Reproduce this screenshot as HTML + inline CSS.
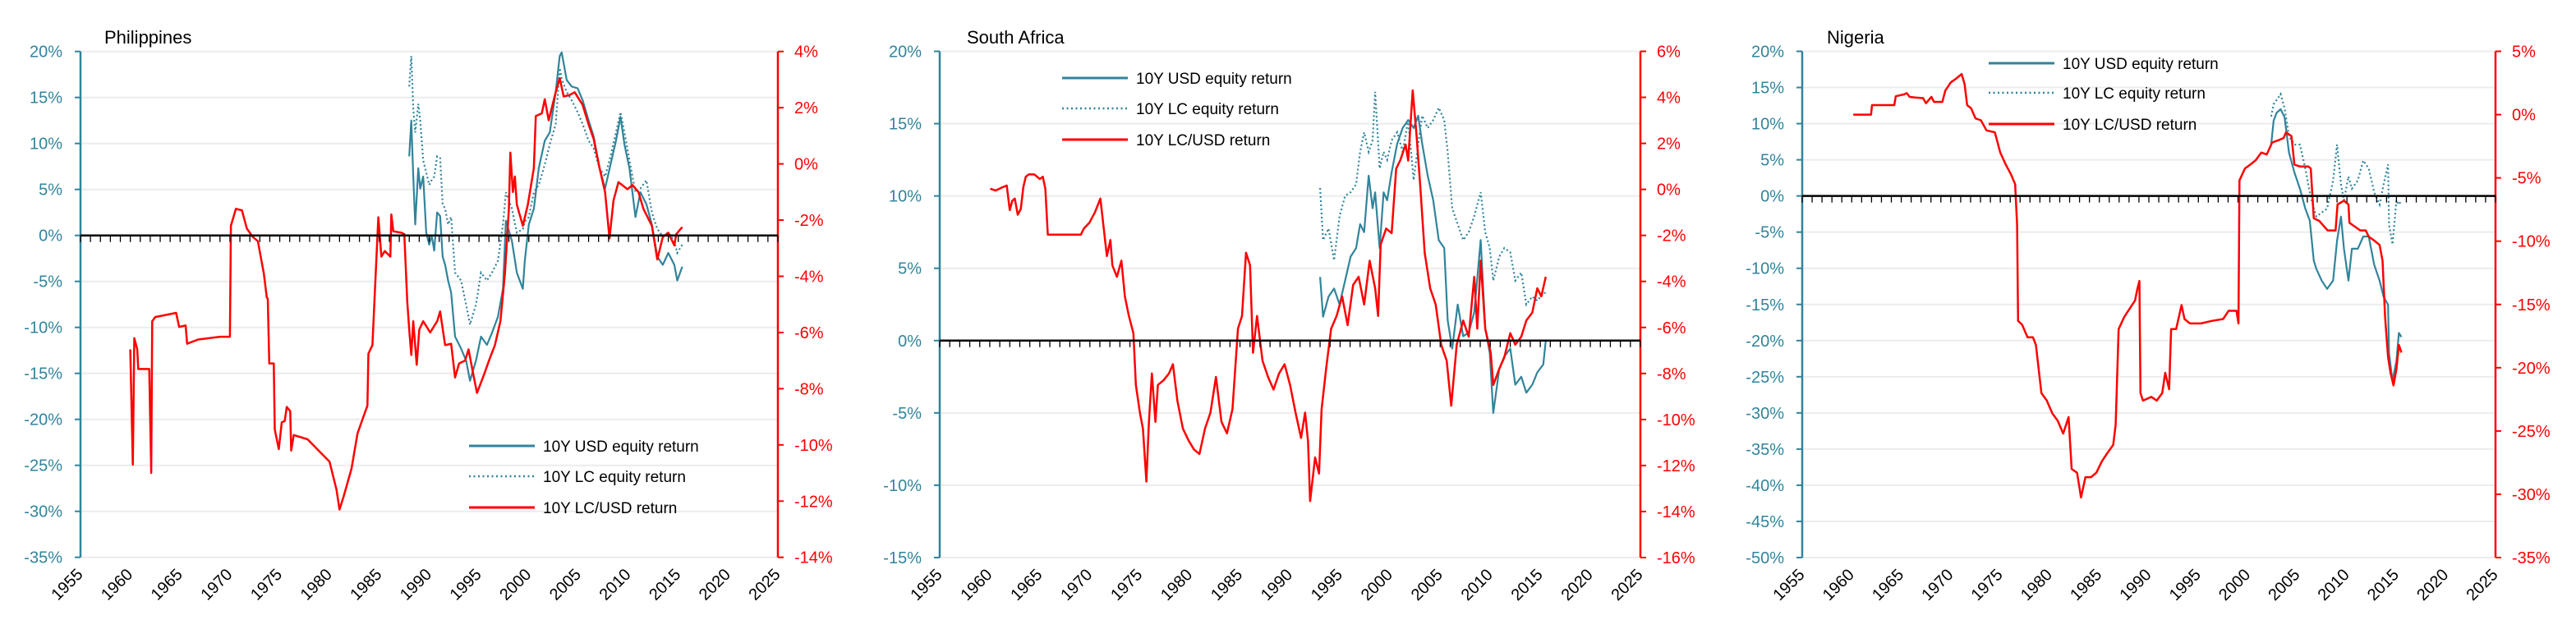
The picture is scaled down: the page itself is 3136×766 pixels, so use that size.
<!DOCTYPE html>
<html><head><meta charset="utf-8">
<style>
html,body{margin:0;padding:0;background:#fff;}
svg{display:block;font-family:"Liberation Sans",sans-serif;}
</style></head>
<body>
<svg id="chart" width="3136" height="766" viewBox="0 0 3136 766" xmlns="http://www.w3.org/2000/svg"></svg>
<script>
// ---------- DATA (year, value %) ----------
const phYears_fx = [1960.0,1960.25,1960.4,1960.7,1960.8,1961.9,1962.1,1962.2,1962.5,1964.6,1964.9,1965.55,1965.7,1966.8,1969.0,1970.0,1970.1,1970.6,1971.2,1971.7,1972.3,1972.8,1973.4,1973.7,1973.8,1973.95,1974.4,1974.5,1974.9,1975.2,1975.5,1975.7,1976.05,1976.15,1976.4,1977.8,1978.9,1980.0,1980.7,1981.0,1981.4,1982.2,1982.8,1983.3,1983.8,1983.9,1984.3,1984.6,1984.9,1985.2,1985.55,1986.1,1986.2,1986.4,1987.2,1987.5,1987.8,1988.0,1988.2,1988.4,1988.75,1989.0,1989.4,1990.1,1990.8,1991.1,1991.6,1992.2,1992.6,1993.0,1993.6,1993.95,1994.4,1994.8,1995.5,1996.0,1996.6,1997.15,1997.6,1998.0,1998.15,1998.4,1998.6,1998.8,1999.4,1999.9,2000.5,2000.7,2001.3,2001.6,2002.0,2002.7,2003.1,2003.5,2004.1,2004.6,2005.4,2006.0,2006.5,2007.1,2007.65,2008.1,2008.5,2009.0,2009.9,2010.4,2011.0,2011.5,2012.35,2012.9,2013.45,2014.0,2014.6,2014.8,2015.4];
const phValues_fx = [-6.6,-10.7,-6.2,-6.6,-7.3,-7.3,-11.0,-5.6,-5.45,-5.3,-5.8,-5.75,-6.4,-6.25,-6.15,-6.15,-2.2,-1.6,-1.65,-2.3,-2.6,-2.75,-3.9,-4.75,-4.8,-7.1,-7.1,-9.45,-10.15,-9.2,-9.15,-8.65,-8.8,-10.2,-9.65,-9.8,-10.2,-10.6,-11.6,-12.3,-11.85,-10.85,-9.6,-9.1,-8.6,-6.75,-6.45,-4.15,-1.9,-3.3,-3.1,-3.3,-1.8,-2.4,-2.45,-2.5,-4.9,-5.9,-6.8,-5.6,-7.15,-5.9,-5.6,-6.0,-5.6,-5.25,-6.45,-6.4,-7.6,-7.1,-7.0,-6.6,-7.45,-8.15,-7.5,-7.0,-6.45,-5.6,-3.9,-1.6,0.4,-1.0,-0.45,-1.45,-2.2,-1.45,-0.15,1.7,1.8,2.3,1.55,2.55,3.05,2.4,2.45,2.55,2.1,1.4,0.9,-0.15,-1.0,-2.65,-1.3,-0.65,-0.9,-0.75,-1.0,-1.6,-2.2,-3.4,-2.6,-2.45,-2.9,-2.5,-2.25];
const phYears_eq = [1988.0,1988.2,1988.4,1988.6,1988.9,1989.1,1989.4,1989.7,1990.0,1990.25,1990.5,1990.8,1991.1,1991.35,1991.6,1991.9,1992.2,1992.6,1993.2,1993.7,1994.1,1994.7,1995.2,1995.8,1996.3,1996.9,1997.4,1997.7,1998.3,1998.8,1999.4,1999.6,2000.0,2000.5,2001.0,2001.6,2002.1,2002.7,2003.1,2003.3,2003.8,2004.3,2004.9,2005.4,2006.0,2006.5,2007.1,2007.65,2008.2,2008.75,2009.2,2009.6,2010.1,2010.7,2011.2,2011.8,2012.35,2012.9,2013.45,2014.0,2014.6,2014.9,2015.4];
const phValues_usd = [8.6,12.5,6.4,1.2,7.3,5.1,6.4,0.3,-1.0,0.0,-1.65,2.5,2.1,-2.3,-3.2,-4.9,-6.2,-11.0,-12.3,-13.6,-15.8,-13.6,-11.0,-11.9,-10.6,-8.85,-5.8,1.6,-0.6,-4.05,-5.8,-2.75,1.2,2.9,7.3,10.3,11.2,15.6,19.5,19.9,16.9,16.2,16.0,14.7,12.5,10.8,7.3,5.1,7.7,10.3,12.9,9.9,7.3,2.0,4.7,3.4,1.2,-2.3,-3.2,-1.9,-3.2,-4.9,-3.4];
const phValues_lc = [16.2,19.5,13.8,11.2,14.3,12.5,8.15,6.85,5.5,6.0,6.4,8.6,8.4,3.4,2.9,1.2,2.0,-4.05,-4.9,-7.5,-9.7,-7.5,-4.05,-4.9,-4.05,-2.75,1.2,4.7,2.9,0.3,0.7,1.5,2.0,4.7,5.5,7.7,9.9,12.1,18.2,17.0,15.6,14.7,13.4,12.1,10.3,9.5,7.3,6.4,8.6,11.2,13.4,11.2,8.15,4.7,5.1,6.0,2.5,0.7,-0.1,0.3,-0.6,-1.9,-1.0];

const zaYears_fx = [1960.05,1960.6,1961.15,1961.7,1962.0,1962.25,1962.5,1962.8,1963.1,1963.35,1963.6,1963.9,1964.45,1965.0,1965.3,1965.55,1965.8,1966.65,1967.75,1969.1,1969.4,1969.95,1970.5,1971.05,1971.3,1971.7,1972.05,1972.25,1972.7,1973.15,1973.5,1973.9,1974.35,1974.6,1975.0,1975.3,1975.65,1975.9,1976.2,1976.55,1976.8,1977.35,1977.9,1978.3,1978.75,1979.3,1979.85,1980.4,1980.95,1981.5,1982.05,1982.6,1983.15,1983.7,1984.25,1984.8,1985.2,1985.6,1986.0,1986.3,1986.7,1987.25,1987.8,1988.35,1988.9,1989.45,1990.0,1990.55,1991.1,1991.5,1991.8,1992.0,1992.5,1992.9,1993.15,1993.6,1994.1,1994.65,1995.2,1995.75,1996.3,1996.85,1997.4,1997.95,1998.5,1998.8,1999.05,1999.6,2000.15,2000.6,2001.0,2001.55,2001.8,2002.25,2002.65,2003.0,2003.45,2004.0,2004.55,2005.1,2005.65,2006.1,2006.65,2007.3,2007.85,2008.4,2008.7,2009.05,2009.5,2010.05,2010.3,2010.9,2011.4,2012.0,2012.5,2013.1,2013.6,2014.2,2014.7,2015.1,2015.55];
const zaValues_fx = [0.03,-0.05,0.07,0.17,-0.9,-0.5,-0.4,-1.1,-0.85,0.1,0.55,0.65,0.65,0.45,0.55,0.03,-1.97,-1.97,-1.97,-1.97,-1.7,-1.45,-1.0,-0.4,-1.35,-2.9,-2.2,-3.3,-3.8,-3.1,-4.65,-5.5,-6.25,-8.5,-9.7,-10.4,-12.7,-10.1,-8.0,-10.1,-8.5,-8.3,-8.0,-7.6,-9.2,-10.4,-10.9,-11.3,-11.5,-10.4,-9.7,-8.15,-10.1,-10.6,-9.55,-6.05,-5.5,-2.75,-3.3,-7.1,-5.5,-7.45,-8.15,-8.7,-8.0,-7.6,-8.5,-9.7,-10.8,-9.7,-10.95,-13.55,-11.65,-12.35,-9.55,-7.8,-6.05,-5.5,-4.65,-5.9,-4.15,-3.8,-5.0,-3.1,-4.3,-5.5,-2.4,-1.7,-1.9,0.9,1.25,1.95,1.25,4.3,2.3,0.2,-2.75,-4.3,-5.0,-6.75,-7.45,-9.4,-6.75,-5.7,-6.4,-3.8,-6.05,-3.1,-6.05,-7.1,-8.5,-7.8,-7.3,-6.25,-6.75,-6.4,-5.7,-5.35,-4.3,-4.65,-3.8];
const zaYears_eq = [1993.0,1993.3,1993.85,1994.4,1994.95,1995.5,1996.05,1996.6,1997.0,1997.4,1997.85,1998.25,1998.5,1998.95,1999.35,1999.7,2000.15,2000.7,2001.25,2001.8,2002.35,2002.8,2003.2,2003.75,2004.3,2004.85,2005.4,2005.75,2006.2,2006.75,2007.3,2007.85,2008.4,2009.05,2009.5,2009.95,2010.3,2010.9,2011.4,2012.0,2012.5,2013.1,2013.6,2014.2,2014.7,2015.3,2015.55];
const zaValues_usd = [4.4,1.65,3.05,3.6,2.5,4.15,5.8,6.4,8.05,7.5,11.4,9.15,10.25,6.4,10.25,9.7,11.65,13.6,14.7,15.25,14.7,15.55,13.6,11.4,9.7,6.95,6.4,1.4,-0.55,2.5,0.3,0.55,1.95,6.95,0.85,-0.85,-5.0,-1.95,-1.1,-0.55,-3.05,-2.5,-3.6,-3.05,-2.2,-1.65,0.0];
const zaValues_lc = [10.55,6.95,7.75,5.55,8.6,10.0,10.25,10.8,13.05,14.4,13.05,13.85,17.2,11.9,13.05,12.5,13.85,14.4,13.05,15.25,11.1,13.6,15.55,14.7,15.25,16.1,15.25,13.05,9.15,8.05,6.95,7.5,8.6,10.25,7.5,6.4,4.15,5.8,6.4,6.1,4.15,4.7,2.5,3.05,2.75,3.3,3.3];

const ngYears_fx = [1960.15,1961.95,1962.05,1964.3,1964.45,1965.3,1965.55,1965.85,1966.4,1967.2,1967.5,1968.05,1968.3,1969.15,1969.45,1970.0,1970.55,1971.1,1971.4,1971.65,1972.05,1972.5,1973.05,1973.6,1974.45,1975.0,1975.55,1976.1,1976.5,1976.7,1976.8,1977.2,1977.75,1978.3,1978.6,1979.15,1979.7,1980.25,1980.8,1981.35,1981.9,1982.2,1982.75,1983.15,1983.6,1984.15,1984.7,1985.25,1985.8,1986.4,1986.65,1986.95,1987.5,1988.05,1988.6,1988.85,1989.05,1989.15,1989.4,1990.25,1990.8,1991.35,1991.65,1992.05,1992.25,1992.75,1993.3,1993.6,1994.15,1995.25,1996.35,1997.5,1998.05,1998.85,1999.05,1999.15,1999.7,2000.25,2000.8,2001.35,2001.9,2002.45,2003.0,2003.6,2003.85,2004.4,2004.7,2005.25,2006.1,2006.35,2006.65,2007.2,2008.05,2008.85,2009.05,2009.7,2010.15,2010.25,2010.8,2011.35,2011.9,2012.2,2012.75,2013.3,2013.6,2013.85,2014.15,2014.4,2014.7,2015.0,2015.25,2015.5];
const ngValues_fx = [0.0,0.0,0.75,0.75,1.45,1.6,1.7,1.4,1.35,1.3,0.9,1.4,1.0,1.0,1.9,2.55,2.85,3.2,2.4,0.75,0.5,-0.3,-0.45,-1.25,-1.4,-3.0,-3.95,-4.75,-5.5,-8.7,-16.3,-16.6,-17.6,-17.6,-18.2,-22.0,-22.6,-23.6,-24.2,-25.2,-23.9,-28.0,-28.3,-30.25,-28.65,-28.65,-28.3,-27.4,-26.75,-26.1,-24.5,-16.95,-16.0,-15.35,-14.7,-13.75,-13.15,-22.0,-22.6,-22.3,-22.6,-22.0,-20.4,-21.7,-16.95,-16.95,-15.05,-16.15,-16.5,-16.5,-16.3,-16.15,-15.5,-15.5,-16.5,-5.2,-4.25,-3.95,-3.6,-3.0,-3.15,-2.2,-2.05,-1.85,-1.4,-1.7,-3.95,-4.1,-4.1,-4.25,-8.2,-8.4,-9.15,-9.15,-7.1,-6.8,-7.1,-8.55,-8.85,-9.15,-9.15,-9.65,-9.95,-10.3,-11.55,-16.0,-19.15,-20.4,-21.4,-20.1,-18.2,-18.8];
const ngYears_eq = [2002.35,2002.6,2002.9,2003.3,2003.7,2004.15,2004.7,2005.25,2005.8,2006.25,2006.65,2006.9,2007.45,2008.0,2008.6,2009.0,2009.4,2009.7,2010.15,2010.5,2011.1,2011.65,2012.2,2012.75,2013.3,2013.7,2014.15,2014.25,2014.6,2015.0,2015.25,2015.5];
const ngValues_usd = [7.1,10.4,11.5,12.0,10.9,6.0,3.25,1.0,-1.75,-3.4,-8.95,-10.05,-11.7,-12.85,-11.7,-6.2,-2.85,-7.3,-11.7,-7.3,-7.3,-5.6,-5.6,-9.5,-11.7,-13.95,-15.05,-21.7,-25.6,-22.8,-18.95,-19.5];
const ngValues_lc = [11.0,12.7,13.25,14.1,12.15,8.25,7.1,7.1,3.8,0.5,-1.75,-2.85,-2.3,-1.75,2.15,7.1,1.6,-0.6,2.7,1.0,2.15,4.9,3.8,0.5,-1.2,1.6,4.35,-3.95,-6.7,-0.6,-1.2,-0.6];

const xTickYears = [1955,1960,1965,1970,1975,1980,1985,1990,1995,2000,2005,2010,2015,2020,2025];
const legendLabels = ["10Y USD equity return","10Y LC equity return","10Y LC/USD return"];

// ---------- DRAWING ----------
const NS = "http://www.w3.org/2000/svg";
const svg = document.getElementById('chart');
const TEAL = "#31849b", RED = "#ff0000";
function mk(tag, attrs, parent){ const e=document.createElementNS(NS,tag); for(const k in attrs) e.setAttribute(k,attrs[k]); (parent||svg).appendChild(e); return e; }

const panels = [
 {key:'philippines', title:'Philippines', titleX:127, L:98, R:947, T:62.7, B:678.7, lMin:-35, lMax:20, lStep:5, rMin:-14, rMax:4, rStep:2,
  fxY:phYears_fx, fxV:phValues_fx, eqY:phYears_eq, usd:phValues_usd, lc:phValues_lc, legX:571, legY:[543,580,618]},
 {key:'south-africa', title:'South Africa', titleX:1177, L:1144, R:1997, T:62.5, B:679, lMin:-15, lMax:20, lStep:5, rMin:-16, rMax:6, rStep:2,
  fxY:zaYears_fx, fxV:zaValues_fx, eqY:zaYears_eq, usd:zaValues_usd, lc:zaValues_lc, legX:1293, legY:[95,132,170]},
 {key:'nigeria', title:'Nigeria', titleX:2224, L:2194, R:3038, T:62.5, B:679, lMin:-50, lMax:20, lStep:5, rMin:-35, rMax:5, rStep:5,
  fxY:ngYears_fx, fxV:ngValues_fx, eqY:ngYears_eq, usd:ngValues_usd, lc:ngValues_lc, legX:2421, legY:[77,113,151]}
];

panels.forEach(p=>{
  const g = mk('g',{});
  
  
  const x = yr => p.L + (yr-1955)/(2025-1955)*(p.R-p.L);
  const yl = v => p.B - (v-p.lMin)/(p.lMax-p.lMin)*(p.B-p.T);
  const yr = v => p.B - (v-p.rMin)/(p.rMax-p.rMin)*(p.B-p.T);

  // gridlines + left ticks
  for(let v=p.lMin; v<=p.lMax+0.001; v+=p.lStep){
    const yy=yl(v);
    const gl=mk('line',{x1:p.L,x2:p.R,y1:yy,y2:yy,stroke:'#ececec','stroke-width':2},g);
    
    
    mk('line',{x1:p.L-7,x2:p.L,y1:yy,y2:yy,stroke:TEAL,'stroke-width':2},g);
    const t=mk('text',{x:p.L-22,y:yy+7,'text-anchor':'end','font-size':20,fill:TEAL},g);
    t.textContent=v+'%';
    
    
  }
  // right ticks
  for(let v=p.rMin; v<=p.rMax+0.001; v+=p.rStep){
    const yy=yr(v);
    mk('line',{x1:p.R,x2:p.R+7,y1:yy,y2:yy,stroke:RED,'stroke-width':2},g);
    const t=mk('text',{x:p.R+20,y:yy+7,'text-anchor':'start','font-size':20,fill:RED},g);
    t.textContent=v+'%';
    
    
  }
  // axes
  const la=mk('line',{x1:p.L,x2:p.L,y1:p.T,y2:p.B,stroke:TEAL,'stroke-width':2.5},g);
  
  
  const ra=mk('line',{x1:p.R,x2:p.R,y1:p.T,y2:p.B,stroke:RED,'stroke-width':2.5},g);
  
  
  // x labels
  xTickYears.forEach(yv=>{
    const xx=x(yv), yy=p.B+22;
    const t=mk('text',{x:xx+4,y:yy,'text-anchor':'end','font-size':20,fill:'#000',transform:`rotate(-45 ${xx+4} ${yy})`},g);
    t.textContent=yv;
    
    
  });
  // title
  const tt=mk('text',{x:p.titleX,y:53,'font-size':22,fill:'#000'},g);
  tt.textContent=p.title;
  
  

  const path=(ys,vs,f)=>ys.map((yy,i)=>(i?'L':'M')+x(yy).toFixed(1)+','+f(vs[i]).toFixed(1)).join('');
  // series
  const lc=mk('path',{d:path(p.eqY,p.lc,yl),fill:'none',stroke:TEAL,'stroke-width':2.2,'stroke-dasharray':'2 3'},g);
  
  
  const us=mk('path',{d:path(p.eqY,p.usd,yl),fill:'none',stroke:TEAL,'stroke-width':2.2,'stroke-linejoin':'round'},g);
  
  
  const fx=mk('path',{d:path(p.fxY,p.fxV,yr),fill:'none',stroke:RED,'stroke-width':2.5,'stroke-linejoin':'round'},g);
  
  

  // zero axis with yearly ticks
  const y0=yl(0);
  const za=mk('line',{x1:p.L,x2:p.R,y1:y0,y2:y0,stroke:'#000','stroke-width':2.5},g);
  
  
  for(let yv=1955; yv<=2025; yv++){
    mk('line',{x1:x(yv),x2:x(yv),y1:y0,y2:y0+8,stroke:'#000','stroke-width':1.3},g);
  }

  // legend
  const styles=[{stroke:TEAL,w:3,d:null},{stroke:TEAL,w:2.5,d:'2 3.5'},{stroke:RED,w:3,d:null}];
  legendLabels.forEach((lab,i)=>{
    const lg=mk('g',{},g);
    
    
    const a={x1:p.legX,x2:p.legX+80,y1:p.legY[i],y2:p.legY[i],stroke:styles[i].stroke,'stroke-width':styles[i].w};
    if(styles[i].d) a['stroke-dasharray']=styles[i].d;
    mk('line',a,lg);
    const t=mk('text',{x:p.legX+90,y:p.legY[i]+7,'font-size':19,fill:'#000'},lg);
    t.textContent=lab;
  });
});
</script>
</body></html>
